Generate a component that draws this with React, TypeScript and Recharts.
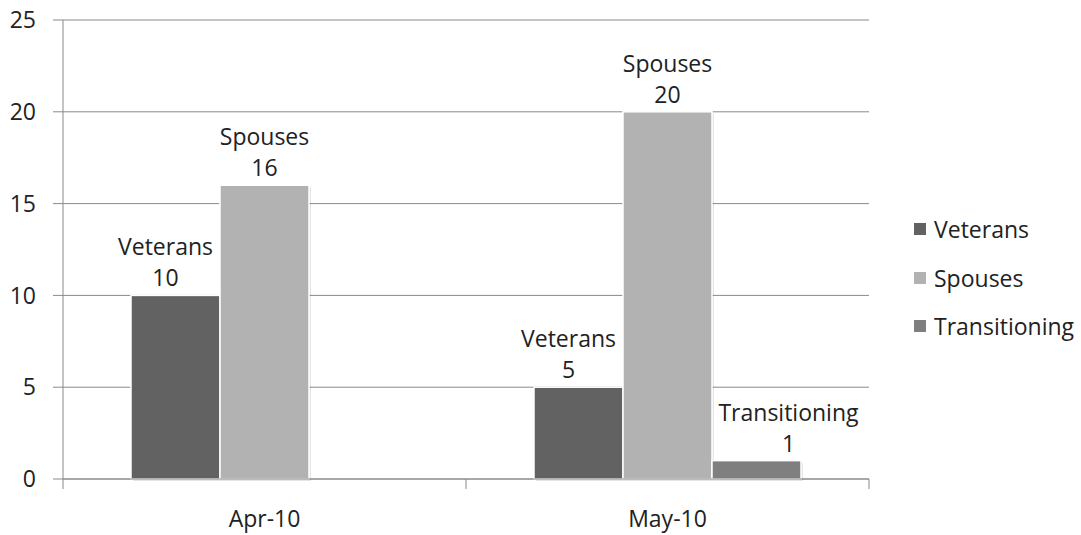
import React from 'react';
import { Bar, BarChart, CartesianGrid, LabelList, Legend, XAxis, YAxis } from 'recharts';

const categories = ['Apr-10', 'May-10'];
const veterans = [10, 5];
const spouses = [16, 20];
const transitioning: (number | null)[] = [null, 1];
const yTicks = [0, 5, 10, 15, 20, 25];

const seriesList = [
  { key: 'veterans', name: 'Veterans', color: '#626262', labelDx: -10 },
  { key: 'spouses', name: 'Spouses', color: '#b2b2b2', labelDx: 0 },
  { key: 'transitioning', name: 'Transitioning', color: '#7f7f7f', labelDx: 32 },
];

const chartData = categories.map((month, i) => ({
  month,
  veterans: veterans[i],
  spouses: spouses[i],
  transitioning: transitioning[i],
}));

const FONT = '"Open Sans", sans-serif';
const FONT_SIZE = 23;
const TEXT = '#222';
const GRID = '#8a8a8a';
const TICK_LEN = 10;
const X_TICK_MARGIN = 22;

function ShadowBar(props: any) {
  const { x, y, width, height, fill } = props;
  if (!height || height <= 0) return null;
  return (
    <g>
      <rect x={x + 2} y={y + 2} width={width} height={height} fill="#000" opacity={0.1} />
      <rect x={x} y={y} width={width} height={height} fill={fill} stroke="#fff" strokeWidth={1.5} />
    </g>
  );
}

function makeLabel(name: string, dx: number) {
  return function BarLabel(props: any) {
    const { x, y, width, value } = props;
    if (value == null) return null;
    const cx = x + width / 2 + dx;
    return (
      <g fontFamily={FONT} fontSize={FONT_SIZE} fill={TEXT}>
        <text x={cx} y={y - 40} textAnchor="middle">
          {name}
        </text>
        <text x={cx} y={y - 9} textAnchor="middle">
          {value}
        </text>
      </g>
    );
  };
}

function MonthTick(props: any) {
  const { x, y, payload, index } = props;
  const half = payload?.offset || 201.5;
  const top = y - X_TICK_MARGIN - TICK_LEN;
  const bottom = y - X_TICK_MARGIN;
  return (
    <g>
      <line x1={x - half} x2={x - half} y1={top} y2={bottom} stroke={GRID} />
      {index === categories.length - 1 && (
        <line x1={x + half} x2={x + half} y1={top} y2={bottom} stroke={GRID} />
      )}
      <text x={x} y={y} dy="0.71em" textAnchor="middle" fontFamily={FONT} fontSize={FONT_SIZE} fill={TEXT}>
        {payload.value}
      </text>
    </g>
  );
}

function LegendBox() {
  return (
    <div style={{ fontFamily: FONT, fontSize: FONT_SIZE, color: TEXT }}>
      {seriesList.map((s) => (
        <div key={s.key} style={{ display: 'flex', alignItems: 'center', height: 48.5 }}>
          <span
            style={{ width: 12, height: 12, background: s.color, display: 'inline-block', marginRight: 8 }}
          />
          <span>{s.name}</span>
        </div>
      ))}
    </div>
  );
}

export default function App() {
  return (
    <div style={{ position: 'absolute', left: 0, top: 0, background: '#fff' }}>
      <BarChart
        width={1081}
        height={535}
        data={chartData}
        margin={{ top: 20, right: 212, bottom: 0, left: 0 }}
        barCategoryGap={68}
        barGap={0}
      >
        <CartesianGrid vertical={false} stroke={GRID} />
        <XAxis
          dataKey="month"
          height={56}
          axisLine={{ stroke: GRID }}
          tickLine={false}
          tickMargin={X_TICK_MARGIN}
          tickSize={TICK_LEN}
          tick={<MonthTick />}
          interval={0}
        />
        <YAxis
          width={63}
          domain={[0, 25]}
          ticks={yTicks}
          axisLine={{ stroke: GRID }}
          tickLine={{ stroke: GRID }}
          tickSize={TICK_LEN}
          tickMargin={17}
          tick={{ fill: TEXT, fontSize: FONT_SIZE, fontFamily: FONT }}
        />
        {seriesList.map((s) => (
          <Bar
            key={s.key}
            dataKey={s.key}
            name={s.name}
            fill={s.color}
            shape={<ShadowBar />}
            isAnimationActive={false}
          >
            <LabelList dataKey={s.key} content={makeLabel(s.name, s.labelDx)} />
          </Bar>
        ))}
        <Legend
          layout="vertical"
          align="center"
          verticalAlign="middle"
          content={<LegendBox />}
          wrapperStyle={{ left: 914, top: 205, width: 167, height: 146 }}
        />
      </BarChart>
    </div>
  );
}
